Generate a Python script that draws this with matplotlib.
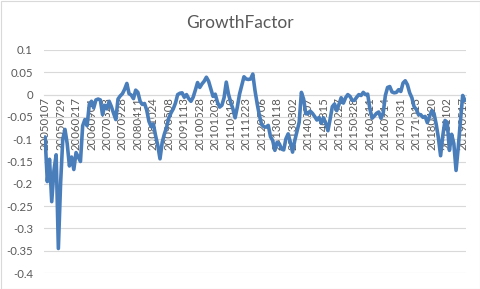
import matplotlib
matplotlib.use("Agg")
import matplotlib.pyplot as plt
from matplotlib.patches import Rectangle
import numpy as np

title = "GrowthFactor"

# category labels shown on the x axis (every 7th sample)
date_labels = ["20050107", "20050729", "20060217", "20060901", "20070323",
               "20070928", "20080411", "20081024", "20090508", "20091113",
               "20100528", "20101203", "20110610", "20111223", "20120706",
               "20130118", "20130802", "20140207", "20140815", "20150227",
               "20150828", "20160311", "20160914", "20170331", "20171013",
               "20180420", "20181102", "20190517"]
label_step = 7

# series values (one every ~4 weeks)
growth = [
    -0.095, -0.195, -0.145, -0.24, -0.17, -0.135, -0.345, -0.20, -0.10, -0.078,
    -0.11, -0.16, -0.14, -0.168, -0.13, -0.14, -0.15, -0.07, -0.056, -0.07,
    -0.022, -0.015, -0.03, -0.012, -0.01, -0.012, -0.045, -0.024, -0.032, -0.015,
    -0.027, -0.042, -0.056, -0.01, -0.003, 0.002, 0.012, 0.025, 0.002, -0.001,
    -0.009, 0.01, 0.005, -0.015, -0.022, -0.02, -0.035, -0.06, -0.072, -0.066,
    -0.092, -0.114, -0.144, -0.107, -0.088, -0.073, -0.052, -0.041, -0.032, -0.019,
    0.0, 0.003, 0.004, -0.006, 0.0, -0.009, -0.015, -0.006, 0.010, 0.027,
    0.016, 0.024, 0.030, 0.039, 0.030, 0.013, -0.004, 0.001, -0.017, -0.028,
    -0.024, -0.007, 0.028, 0.001, -0.017, -0.032, -0.052, -0.028, 0.001, 0.021,
    0.040, 0.035, 0.034, 0.035, 0.046, 0.009, -0.021, -0.047, -0.067, -0.072,
    -0.073, -0.069, -0.094, -0.103, -0.125, -0.107, -0.110, -0.122, -0.124, -0.099,
    -0.088, -0.107, -0.129, -0.103, -0.083, -0.062, 0.005, -0.010, -0.043, -0.043,
    -0.037, -0.042, -0.049, -0.057, -0.051, -0.064, -0.052, -0.064, -0.081, -0.055,
    -0.027, -0.021, -0.036, -0.022, -0.007, -0.019, -0.007, 0.000, -0.004, -0.013,
    -0.013, -0.006, 0.0, -0.002, 0.005, 0.0, 0.001, -0.032, -0.053, -0.048,
    -0.042, -0.039, -0.053, -0.042, -0.002, 0.016, 0.018, 0.006, 0.004, 0.005,
    0.011, 0.007, 0.026, 0.031, 0.022, 0.004, -0.007, -0.027, -0.033, -0.045,
    -0.045, -0.051, -0.049, -0.063, -0.049, -0.036, -0.042, -0.066, -0.097, -0.137,
    -0.092, -0.058, -0.062, -0.125, -0.089, -0.110, -0.170, -0.118, -0.058, -0.002,
    -0.013,
]

y_ticks = [0.1, 0.05, 0, -0.05, -0.1, -0.15, -0.2, -0.25, -0.3, -0.35, -0.4]
y_tick_labels = ["0.1", "0.05", "0", "-0.05", "-0.1", "-0.15", "-0.2",
                 "-0.25", "-0.3", "-0.35", "-0.4"]

FONT = ["Lato", "DejaVu Sans"]
plt.rcParams["font.family"] = FONT
TXT = "#595959"
GRID = "#d9d9d9"
LINE = "#4a7ebb"

fig = plt.figure(figsize=(4.80, 2.89), dpi=100)
fig.patch.set_facecolor("white")
fig.patches.append(Rectangle((0.5 / 480, 0.5 / 289), 1 - 1.0 / 480, 1 - 1.0 / 289,
                             transform=fig.transFigure, fill=False,
                             edgecolor=GRID, linewidth=0.8))

ax = fig.add_axes([44 / 480, 1 - 273 / 289, 422 / 480, 223 / 289])

for s in ["top", "right", "left"]:
    ax.spines[s].set_visible(False)
ax.spines["bottom"].set_position(("data", 0))
ax.spines["bottom"].set_color(GRID)
ax.spines["bottom"].set_linewidth(0.8)

x = np.arange(len(growth))
ax.plot(x, growth, color=LINE, linewidth=2.6, solid_joinstyle="round",
        solid_capstyle="round", zorder=3)

ax.set_xlim(-0.5, len(growth) - 0.5)
ax.set_ylim(-0.4, 0.1)
ax.set_yticks(y_ticks)
ax.set_yticklabels(y_tick_labels)
ax.yaxis.grid(True, color=GRID, linewidth=0.8)
ax.set_axisbelow(True)

tick_pos = np.arange(len(date_labels)) * label_step
ax.set_xticks(tick_pos)
ax.set_xticklabels(date_labels)

ax.tick_params(axis="y", length=0, pad=8, labelsize=8.2, labelcolor=TXT)
ax.tick_params(axis="x", length=0, pad=2, labelsize=8.2, labelcolor=TXT,
               labelrotation=90)

fig.text(0.5, 1 - 23 / 289, title, ha="center", va="center",
         fontsize=12.5, color=TXT)

fig.savefig("out.png", dpi=100, facecolor="white")
